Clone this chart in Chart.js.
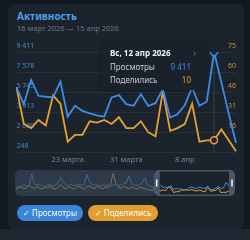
<!DOCTYPE html>
<html>
<head>
<meta charset="utf-8">
<script src="https://cdn.jsdelivr.net/npm/chart.js@4.4.1/dist/chart.umd.min.js"></script>
<style>
html, body { margin: 0; padding: 0; width: 250px; height: 240px; overflow: hidden; background: #121820; font-family: "Noto Sans", Roboto, sans-serif; }
#card { position: absolute; left: 8px; top: 4px; width: 236px; height: 225px; background: #1b232d; border-radius: 6px; }
#bottom { position: absolute; left: 0; top: 229px; width: 250px; height: 11px; background: #1e2731; }
#title { position: absolute; left: 17px; top: 9px; font-size: 10px; font-weight: bold; color: #4d9df0; }
#sub { position: absolute; left: 17px; top: 23px; font-size: 7.5px; color: #6c7886; }
#main { position: absolute; left: 0; top: 0; }
#mini { position: absolute; left: 12px; top: 169px; }
#tip { position: absolute; left: 101px; top: 43px; width: 104px; height: 47px; box-sizing: border-box; background: #19212a; border-radius: 6px; box-shadow: 0 0 4px rgba(0,0,0,0.35); font-size: 8px; color: #c8ced6; }
#tip .t { position: absolute; left: 9px; top: 4px; font-weight: bold; color: #f1f3f5; }
#tip .chev { position: absolute; right: 9px; top: 4px; color: #7b8591; }
#tip .r { position: absolute; left: 9px; right: 14px; display: flex; justify-content: space-between; }
.btn { position: absolute; top: 205px; height: 16px; border-radius: 8px; color: #fff; font-size: 8px; line-height: 16px; text-align: center; white-space: nowrap; box-sizing: border-box; }
</style>
</head>
<body>
<div id="card"></div>
<div id="bottom"></div>
<div id="title">Активность</div>
<div id="sub">16 март 2026 — 15 апр 2026</div>
<canvas id="main" width="250" height="170"></canvas>
<canvas id="mini" width="226" height="28"></canvas>
<div id="tip"></div>
<div class="btn" id="b1" style="left:17px;width:66px;background:#3b86d9">✓ Просмотры</div>
<div class="btn" id="b2" style="left:88px;width:70px;background:#e09f30">✓ Поделились</div>
<script>
// days shown in the main chart
const days = ['16 марта', '17 марта', '18 марта', '19 марта', '20 марта', '21 марта', '22 марта', '23 марта',
  '24 марта', '25 марта', '26 марта', '27 марта', '28 марта', '29 марта', '30 марта', '31 марта',
  '1 апр', '2 апр', '3 апр', '4 апр', '5 апр', '6 апр', '7 апр', '8 апр', '9 апр', '10 апр',
  '11 апр', '12 апр', '13 апр', '14 апр', '15 апр'];
const xTickLabels = ['23 марта', '31 марта', '8 апр'];

const views = [6170, 4630, 6850, 5400, 5310, 5250, 6700, 3490, 4480, 4020, 3790, 3610, 3490, 5250, 5460, 4630,
  4480, 5550, 4480, 4720, 6010, 3400, 3700, 4530, 6170, 4480, 4850, 9411, 6630, 3790, 1080];
const shares = [49, 22, 19, 25, 21, 43, 37, 9, 14, 14, 24, 23, 25, 22, 27, 19,
  19, 24, 16, 13, 46, 17, 19, 22, 37, 9, 10, 10, 18, 10, 2];

const leftTicks = ['248', '2 080', '3 913', '5 745', '7 578', '9 411'];
const rightTicks = ['', '16', '31', '46', '60', '75'];

// earlier period, only seen in the navigator
const earlyViews = [5200, 6100, 5600, 7400, 6200, 6800, 16000, 8200, 7300, 7900, 6400, 6100, 6900, 7600, 6300, 7100,
  8800, 13500, 9200, 7400, 6900, 7800, 6600, 7200, 8100, 6800, 7600, 15800, 9400, 7700, 6900, 7300,
  6300, 7100, 6800, 7500, 6400, 7000, 7900, 6600, 7200, 8300, 9100, 14600, 8400, 7300, 6800, 7700,
  8900, 12800, 7600, 6300, 5400];
const earlyShares = [28, 35, 44, 31, 38, 52, 40, 33, 46, 37, 29, 42, 36, 48, 34, 30,
  41, 55, 38, 32, 44, 36, 29, 40, 47, 35, 31, 43, 50, 37, 33, 45,
  39, 30, 42, 36, 58, 125, 62, 40, 34, 46, 38, 31, 44, 35, 29, 41,
  37, 32, 27, 24, 20];

const hoverIdx = 27;
const hoverTitle = 'Вс, 12 апр 2026';

const blue = '#3b8de6';
const orange = '#e8a12f';
const bg = '#1b232d';

function fmt(n) {
    return String(n).replace(/\B(?=(\d{3})+(?!\d))/g, ' ');
}

// tooltip box
document.getElementById('tip').innerHTML =
    '<div class="t">' + hoverTitle + '</div><div class="chev">›</div>' +
    '<div class="r" style="top:18px"><span>Просмотры</span><span style="color:' + blue + '">' + fmt(views[hoverIdx]) + '</span></div>' +
    '<div class="r" style="top:31px"><span>Поделились</span><span style="color:' + orange + '">' + fmt(shares[hoverIdx]) + '</span></div>';

const hoverLine = {
    id: 'hoverLine',
    beforeDatasetsDraw(chart) {
        let x = chart.scales.x.getPixelForValue(hoverIdx);
        let ctx = chart.ctx;
        ctx.save();
        ctx.strokeStyle = 'rgba(255,255,255,0.12)';
        ctx.lineWidth = 1;
        ctx.beginPath();
        ctx.moveTo(x, chart.chartArea.top);
        ctx.lineTo(x, chart.chartArea.bottom);
        ctx.stroke();
        ctx.restore();
    }
};

const pointR = (c) => c.dataIndex === hoverIdx ? 3.5 : 0;

new Chart('main', {
    type: 'line',
    data: {
        labels: days,
        datasets: [
            { data: views, yAxisID: 'y', borderColor: blue, borderWidth: 1.8, pointRadius: pointR,
              pointBackgroundColor: bg, pointBorderColor: blue, pointBorderWidth: 1.5 },
            { data: shares, yAxisID: 'y2', borderColor: orange, borderWidth: 1.8, pointRadius: pointR,
              pointBackgroundColor: bg, pointBorderColor: orange, pointBorderWidth: 1.5 },
        ]
    },
    options: {
        responsive: false,
        animation: false,
        events: [],
        layout: { padding: { left: 16.5, right: 14, top: 52, bottom: 3 } },
        plugins: { legend: { display: false }, tooltip: { enabled: false } },
        scales: {
            x: {
                grid: { display: false, drawTicks: false },
                border: { display: false },
                ticks: {
                    autoSkip: false, maxRotation: 0, padding: 3, color: '#7a8593',
                    font: { size: 7.5, family: 'Noto Sans' },
                    callback: (v, i) => xTickLabels.includes(days[i]) ? days[i] : ''
                }
            },
            y: {
                position: 'left', min: 248, max: 9411, ticks: {
                    stepSize: (9411 - 248) / 5, mirror: true, padding: 0, labelOffset: -6,
                    color: '#4687d4', font: { size: 7, family: 'Noto Sans' },
                    callback: (v, i) => leftTicks[i]
                },
                grid: { color: 'rgba(255,255,255,0.06)', drawTicks: false },
                border: { display: false }
            },
            y2: {
                position: 'right', min: 1.4, max: 75, ticks: {
                    stepSize: (75 - 1.4) / 5, mirror: true, padding: 0, labelOffset: -6,
                    color: '#c4953a', font: { size: 7, family: 'Noto Sans' },
                    callback: (v, i) => rightTicks[i]
                },
                grid: { display: false, drawTicks: false },
                border: { display: false }
            }
        }
    },
    plugins: [hoverLine]
});

// navigator
const miniViews = earlyViews.concat(views);
const miniShares = earlyShares.concat(shares);
const winStart = earlyViews.length;

const navigator = {
    id: 'navigator',
    afterDatasetsDraw(chart) {
        let ctx = chart.ctx;
        let xs = chart.scales.x.getPixelForValue(winStart) - 1.5;
        let x0 = 3, x1 = chart.width - 3, y0 = 1, y1 = chart.height - 1;
        ctx.save();
        // dim the part outside the window
        ctx.fillStyle = 'rgba(62,76,94,0.58)';
        ctx.beginPath();
        ctx.roundRect(x0, y0, xs - x0, y1 - y0, [5, 0, 0, 5]);
        ctx.fill();
        // window frame
        ctx.fillStyle = '#4b5769';
        ctx.beginPath();
        ctx.roundRect(xs, y0, x1 - xs, y1 - y0, 5);
        ctx.roundRect(xs + 6, y0 + 1.5, x1 - xs - 12, y1 - y0 - 3, 0);
        ctx.fill('evenodd');
        ctx.fillStyle = '#ffffff';
        let hm = (y0 + y1) / 2;
        ctx.fillRect(xs + 2.3, hm - 3.5, 1.4, 7);
        ctx.fillRect(x1 - 3.7, hm - 3.5, 1.4, 7);
        ctx.restore();
    }
};

new Chart('mini', {
    type: 'line',
    data: {
        labels: miniViews.map((_, i) => i),
        datasets: [
            { data: miniViews, yAxisID: 'y', borderColor: blue, borderWidth: 1, pointRadius: 0 },
            { data: miniShares, yAxisID: 'y2', borderColor: orange, borderWidth: 1, pointRadius: 0 },
        ]
    },
    options: {
        responsive: false,
        animation: false,
        events: [],
        layout: { padding: { left: 4, right: 4, top: 3, bottom: 3 } },
        plugins: { legend: { display: false }, tooltip: { enabled: false } },
        scales: {
            x: { display: false },
            y: { display: false, min: 0, max: 17600 },
            y2: { display: false, min: 0, max: 132 }
        }
    },
    plugins: [navigator]
});
</script>
</body>
</html>
